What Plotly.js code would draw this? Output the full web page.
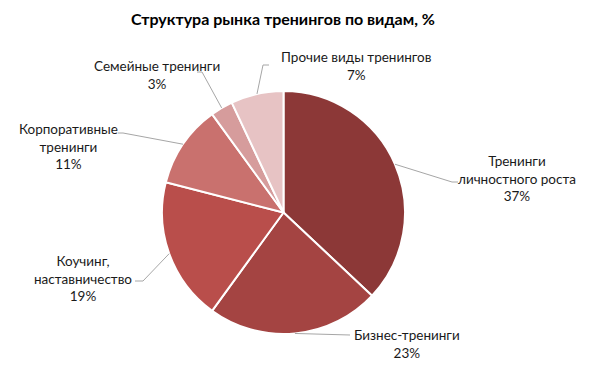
<!DOCTYPE html>
<html>
<head>
<meta charset="utf-8">
<script src="https://cdn.plot.ly/plotly-3.0.1.min.js"></script>
<style>html,body{margin:0;padding:0;background:#fff;}#chart{width:606px;height:372px;}</style>
</head>
<body>
<div id="chart"></div>
<script>
// ---- data ----
const categories = ['Тренинги<br>личностного роста', 'Бизнес-тренинги', 'Коучинг,<br>наставничество', 'Корпоративные<br>тренинги', 'Семейные тренинги', 'Прочие виды тренингов'];
const shares = [37, 23, 19, 11, 3, 7];
const sliceColors = ['#8C3837', '#A44442', '#B94E4B', '#C9716E', '#D69C9C', '#E7C3C4'];

// ---- layout geometry (pixels) ----
const W = 606, H = 372;
const cx = 283.5, cy = 212.5, R = 121.5;
// label block centres and elbow points of leader lines
const labelPos = [[517, 178], [407, 344], [83, 278], [68, 146], [157, 75], [356, 66]];
const elbows = [[[452, 182], [458, 182]], [[350, 335]], [[143, 281], [135, 281]], [[123, 133], [118, 133]], [[202, 72], [197, 72]], [[263, 65], [269, 65]]];

const px = x => x / W;
const py = y => 1 - y / H;

const total = shares.reduce((a, b) => a + b, 0);
let cum = 0;
const annotations = [];
const shapes = [];
shares.forEach((v, i) => {
  const mid = (cum + v / 2) / total * 2 * Math.PI;
  cum += v;
  const ax = cx + R * Math.sin(mid), ay = cy - R * Math.cos(mid);
  let d = `M ${px(ax)} ${py(ay)}`;
  elbows[i].forEach(p => { d += ` L ${px(p[0])} ${py(p[1])}`; });
  shapes.push({type: 'path', xref: 'paper', yref: 'paper', path: d, line: {color: '#A6A6A6', width: 1}});
  annotations.push({
    xref: 'paper', yref: 'paper', x: px(labelPos[i][0]), y: py(labelPos[i][1]),
    xanchor: 'center', yanchor: 'middle', align: 'center', showarrow: false,
    text: categories[i] + '<br>' + Math.round(v / total * 100) + '%',
    font: {family: 'Lato, "Open Sans", sans-serif', size: 13.5, color: '#1A1A1A'}
  });
});

const trace = {
  type: 'pie',
  values: shares,
  labels: categories,
  sort: false,
  direction: 'clockwise',
  rotation: 0,
  textinfo: 'none',
  hoverinfo: 'skip',
  marker: {colors: sliceColors, line: {color: '#FFFFFF', width: 2}},
  domain: {x: [px(cx - R), px(cx + R)], y: [py(cy + R), py(cy - R)]},
  showlegend: false
};

const layout = {
  width: W, height: H,
  margin: {l: 0, r: 0, t: 0, b: 0},
  paper_bgcolor: '#FFFFFF',
  title: {
    text: '<b>Структура рынка тренингов по видам, %</b>',
    x: px(283), xanchor: 'center', xref: 'paper',
    y: py(19), yanchor: 'middle', yref: 'container',
    font: {family: 'Lato, "Open Sans", sans-serif', size: 16, color: '#000000'}
  },
  shapes: shapes,
  annotations: annotations
};

Plotly.newPlot('chart', [trace], layout, {displayModeBar: false, staticPlot: true});
</script>
</body>
</html>
